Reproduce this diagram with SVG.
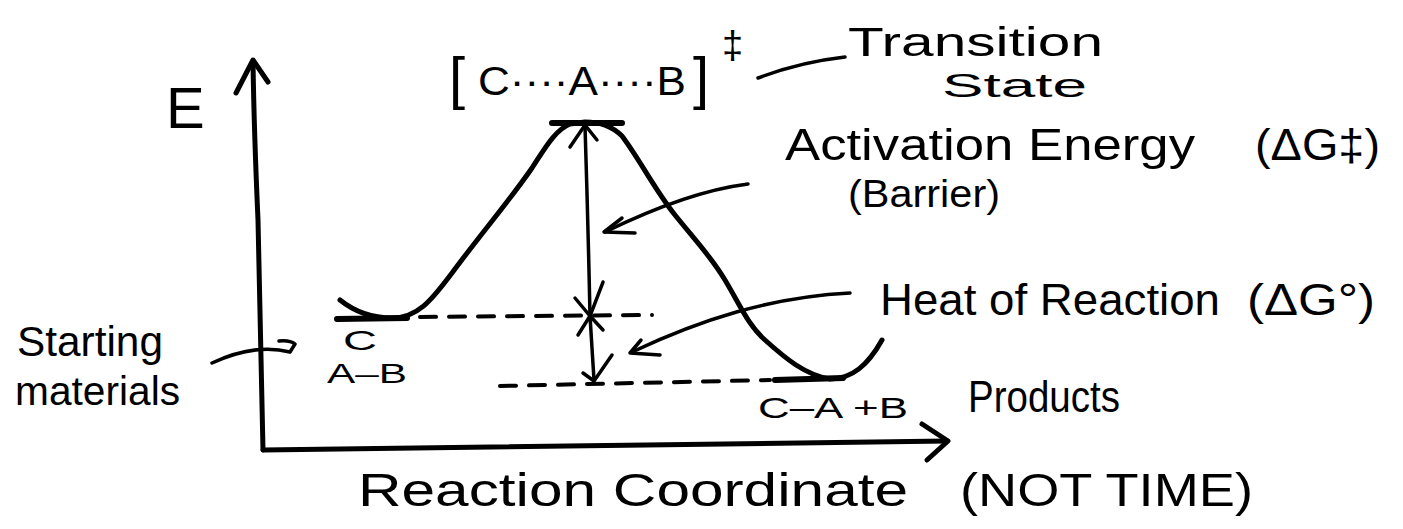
<svg xmlns="http://www.w3.org/2000/svg" width="1403" height="529" viewBox="0 0 1403 529">
<style>
.ln{fill:none;stroke:#000;stroke-linecap:round;stroke-linejoin:round}
.ax{stroke-width:5}
.cv{stroke-width:5}
.ar{stroke-width:3.5}
.bar{stroke-width:6}
.ds{stroke-width:4;stroke-dasharray:16 13}
text{font-family:"Liberation Sans",Arial,sans-serif;fill:#000}
</style>
<rect width="1403" height="529" fill="#fff"/>
<g id="axes">
<path class="ln ax" d="M263,450 L258,220 Q254,130 253,62"/>
<path class="ln ax" d="M236,93 L253,60 L268,82"/>
<path class="ln ax" d="M263,450 L947,441"/>
<path class="ln ax" d="M922,424 L948,441 L927,460"/>
<text id="E" x="166" y="128" font-size="58">E</text>
<text id="xlabel" x="358" y="506" font-size="46" textLength="550" lengthAdjust="spacingAndGlyphs">Reaction Coordinate</text>
<text id="xlabel2" x="960" y="506" font-size="46" textLength="293" lengthAdjust="spacingAndGlyphs">(NOT TIME)</text>
</g>
<g id="curve">
<path class="ln cv" d="M340,300 C355,312 372,318 392,318 C420,318 435,295 452,273 C480,235 510,200 532,168 C545,148 555,130 570,124 L585,122 C600,122 612,126 622,136 C640,160 655,190 675,215 C695,240 710,255 725,280 C740,305 748,325 765,340 C785,358 805,375 830,379 C852,379 868,365 882,340"/>
</g>
<g id="transition-state">
<path class="ln bar" d="M552,123 L622,123"/>
<text x="449" y="98" font-size="58">[</text>
<text x="478" y="95" font-size="40" textLength="208" lengthAdjust="spacingAndGlyphs">C····A····B</text>
<text x="693" y="98" font-size="58">]</text>
<text x="722" y="58" font-size="38">‡</text>
</g>
<g id="transition-label">
<text x="848" y="56" font-size="40" textLength="255" lengthAdjust="spacingAndGlyphs">Transition</text>
<text x="942" y="97" font-size="34" textLength="145" lengthAdjust="spacingAndGlyphs">State</text>
</g>
<g id="reactants">
<path class="ln bar" d="M337,319 L407,318"/>
<text x="343" y="350" font-size="28" textLength="34" lengthAdjust="spacingAndGlyphs">C</text>
<text x="327" y="383" font-size="28" textLength="80" lengthAdjust="spacingAndGlyphs">A–B</text>
</g>
<g id="starting-materials">
<text x="17" y="356" font-size="42" textLength="146" lengthAdjust="spacingAndGlyphs">Starting</text>
<text x="15" y="405" font-size="40" textLength="165" lengthAdjust="spacingAndGlyphs">materials</text>
</g>
<g id="products">
<path class="ln bar" d="M775,380 L843,378"/>
<text x="758" y="418" font-size="30" textLength="150" lengthAdjust="spacingAndGlyphs">C–A +B</text>
<text x="968" y="412" font-size="44" textLength="152" lengthAdjust="spacingAndGlyphs">Products</text>
</g>
<g id="activation-label">
<text x="785" y="160" font-size="44" textLength="410" lengthAdjust="spacingAndGlyphs">Activation Energy</text>
<text x="1255" y="160" font-size="44" textLength="125" lengthAdjust="spacingAndGlyphs">(ΔG‡)</text>
<text x="848" y="207" font-size="38" textLength="152" lengthAdjust="spacingAndGlyphs">(Barrier)</text>
</g>
<g id="heat-label">
<text x="880" y="315" font-size="44" textLength="340" lengthAdjust="spacingAndGlyphs">Heat of Reaction</text>
<text x="1247" y="315" font-size="44" textLength="128" lengthAdjust="spacingAndGlyphs">(ΔG°)</text>
</g>
<g id="connectors">
<path class="ln ds" d="M420,317 L652,315"/>
<path class="ln ds" d="M500,386 L770,380"/>
<path class="ln ar" d="M585,126 Q588,220 590,316 Q592,350 594,380"/>
<path class="ln ar" d="M570,147 L585,125 L597,140"/>
<path class="ln ar" d="M575,298 L590,316 L603,282"/>
<path class="ln ar" d="M578,335 L590,316 L603,330"/>
<path class="ln ar" d="M583,373 L594,381 L612,355"/>
<path class="ln ar" d="M748,184 C700,190 650,210 605,232"/>
<path class="ln ar" d="M622,218 L604,232 L635,233"/>
<path class="ln ar" d="M850,293 C770,297 700,320 632,352"/>
<path class="ln ar" d="M641,340 L630,353 L660,355"/>
<path class="ln ar" d="M758,78 Q800,62 845,57"/>
<path class="ln ar" d="M212,363 Q255,343 290,352 L295,344 Q290,340 279,341"/>
</g>
</svg>
